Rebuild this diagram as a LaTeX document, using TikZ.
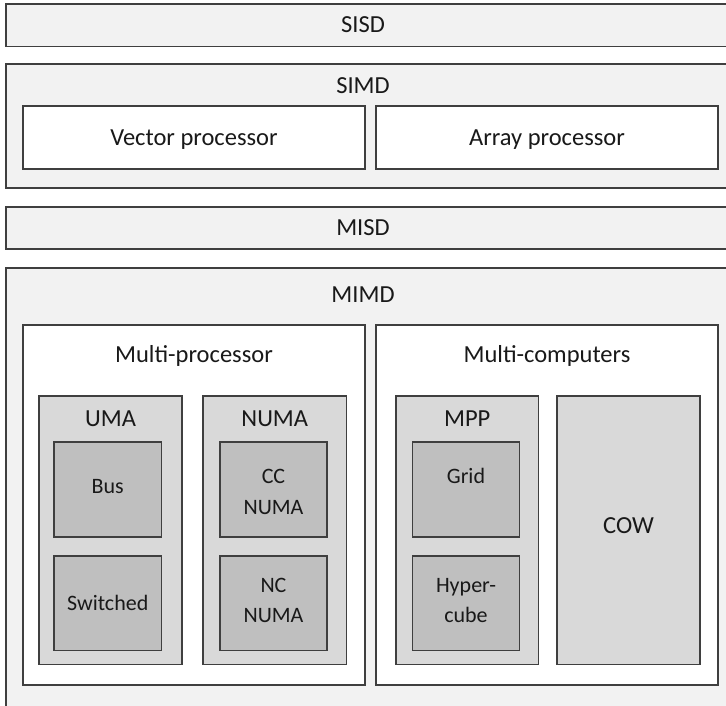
\documentclass[tikz,border=0pt]{standalone}
\usepackage{fontspec}
\setmainfont{Carlito}
\definecolor{lv0}{HTML}{F2F2F2}
\definecolor{lv2}{HTML}{D9D9D9}
\definecolor{lv3}{HTML}{BFBFBF}
\definecolor{edge}{HTML}{3F3F3F}
\newcommand\bigf{\fontsize{24.5}{29}\selectfont}
\newcommand\smallf{\fontsize{22}{26}\selectfont}
\tikzset{
  boxA/.style={draw=edge, line width=1.3pt, fill=lv0},
  boxW/.style={draw=edge, line width=1.3pt, fill=white},
  boxB/.style={draw=edge, line width=1.3pt, fill=lv2},
  boxC/.style={draw=edge, line width=1.3pt, fill=lv3},
  biglbl/.style={anchor=base, inner sep=0pt, font=\bigf, text=black!90, yshift=-7.9pt},
  smalllbl/.style={anchor=base, inner sep=0pt, font=\smallf, text=black!90, yshift=-7.1pt},
}
\begin{document}
\begin{tikzpicture}[x=1pt, y=-1pt]
\useasboundingbox (0,0) rectangle (726,705);
\clip (0,0) rectangle (726,705);
% outer bands
\draw[boxA] (6,4) rectangle (740,46.5);
\node[biglbl] (sisd) at (363,25) {SISD};
\draw[boxA] (6,64) rectangle (740,188);
\node[biglbl] (simd) at (363,86) {SIMD};
\draw[boxW] (23,106) rectangle (365,169);
\node[biglbl] (vec) at (194,137.5) {Vector processor};
\draw[boxW] (376,106) rectangle (718,169);
\node[biglbl] (arr) at (547,137.5) {Array processor};
\draw[boxA] (6,207) rectangle (740,249);
\node[biglbl] (misd) at (363,228) {MISD};
\draw[boxA] (6,268) rectangle (740,720);
\node[biglbl] (mimd) at (363,295) {MIMD};
% multi-processor
\draw[boxW] (23,325) rectangle (365,685);
\node[biglbl] (mp) at (194,355) {Multi-processor};
\draw[boxB] (39,396) rectangle (182,664.5);
\node[biglbl] (uma) at (110.5,419) {UMA};
\draw[boxC] (54,442) rectangle (161.5,537);
\node[smalllbl] (bus) at (107.75,486) {Bus};
\draw[boxC] (54,556) rectangle (161.5,650.5);
\node[smalllbl] (sw) at (107.75,603) {Switched};
\draw[boxB] (203,396) rectangle (346.5,664.5);
\node[biglbl] (numa) at (274.75,419) {NUMA};
\draw[boxC] (220,442) rectangle (327,537);
\node[smalllbl] (cc1) at (273.5,476.5) {CC};
\node[smalllbl] (cc2) at (273.5,507) {NUMA};
\draw[boxC] (220,556) rectangle (327,650.5);
\node[smalllbl] (nc1) at (273.5,585.5) {NC};
\node[smalllbl] (nc2) at (273.5,615) {NUMA};
% multi-computers
\draw[boxW] (376,325) rectangle (718,685);
\node[biglbl] (mc) at (547,355) {Multi-computers};
\draw[boxB] (396,396) rectangle (538.5,664.5);
\node[biglbl] (mpp) at (467.25,419) {MPP};
\draw[boxC] (412.5,442) rectangle (519.5,537);
\node[smalllbl] (grid) at (466,476.5) {Grid};
\draw[boxC] (412.5,556) rectangle (519.5,650.5);
\node[smalllbl] (hc1) at (466,585) {Hyper-};
\node[smalllbl] (hc2) at (466,615) {cube};
\draw[boxB] (557,396) rectangle (700,664.5);
\node[biglbl] (cow) at (628.5,526) {COW};
\end{tikzpicture}
\end{document}
